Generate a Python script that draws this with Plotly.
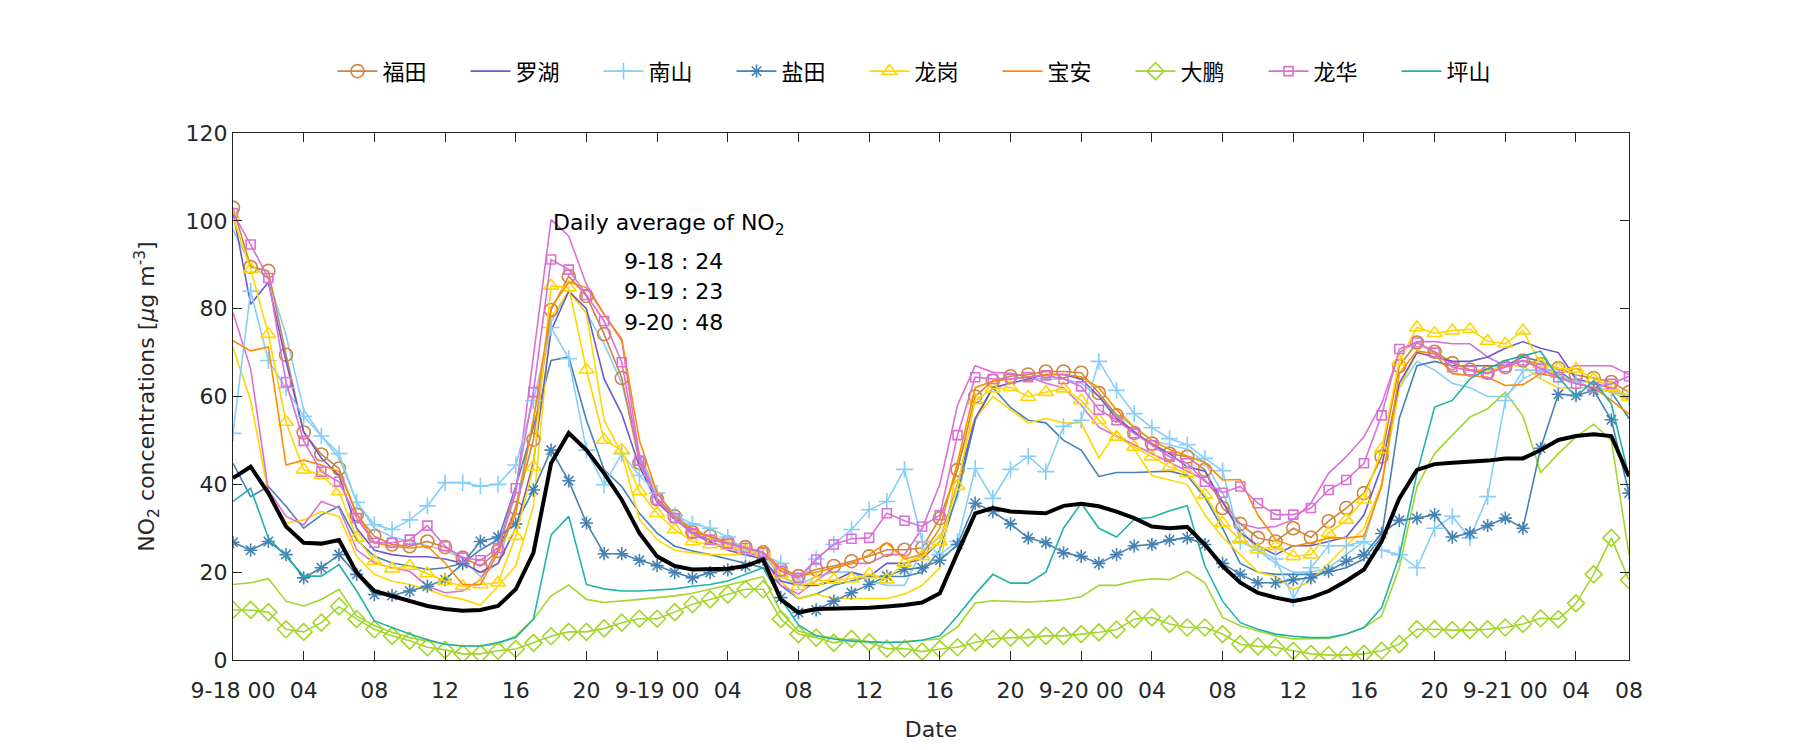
import plotly.graph_objects as go

hours = list(range(80))

# ---- values (NO2, ug/m3), hourly 9-18 00 .. 9-21 07 ----
futian = [103, 89.5, 88.6, 69.5, 51.8, 46.8, 43.6, 33.1, 28.2, 26.3, 25.9, 27.0, 25.7, 23.3, 21.4, 24.8, 34.6, 50.2, 79.7, 87.4, 82.9, 74.2, 64.2, 44.9, 36.6, 32.7, 29.1,
          28.2, 26.8, 25.7, 24.5, 20.6, 19.1, 20.6, 21.4, 22.5, 23.6, 25.1, 25.1, 25.5, 32.3, 43.3, 60.0, 63.6, 64.6, 65.0, 65.7, 65.7, 65.4, 60.8, 55.7, 51.7, 49.3, 47.0,
          46.3, 43.3, 34.6, 31.0, 27.8, 27.0, 30.0, 27.9, 31.6, 34.6, 38.0, 46.3, 66.9, 72.3, 70.2, 67.6, 66.1, 65.4, 66.7, 68.2, 67.4, 66.4, 64.9, 64.2, 63.3, 61.0]
luohu = [102, 81, 86, 68, 52, 46, 42, 30, 25, 24, 23.5, 23.5, 23, 22, 20, 22, 30, 45, 75, 84, 80, 64, 56, 44, 36, 32, 29,
         27, 25, 24, 23, 18, 17, 17, 18, 20, 19, 22, 22, 23, 27, 40, 55, 62, 63, 64, 65, 65, 64, 60, 55, 52, 49, 47,
         44, 43, 36, 29, 26, 24, 26, 26, 27, 28, 33, 44, 63, 70, 69, 68, 68, 69, 71, 72.5, 71, 70, 64, 63, 62, 60]
nanshan = [51.6, 84, 68.2, 62, 55.5, 51, 47, 35.9, 30.8, 29.7, 31.9, 35.1, 40.4, 40.4, 39.6, 40.0, 44.4, 59.1, 75.7, 68.6, 47.8, 39.9, 47.0, 42, 38, 33, 31,
           30, 28, 25, 24, 22, 18, 23, 26.3, 29.7, 34.2, 36.1, 43.4, 27, 24, 27, 43.6, 36.8, 43.4, 46.4, 42.9, 53.2, 54.6, 68, 61.4, 56.1, 52.9, 50.4,
           49, 45.9, 43.1, 27, 25, 23, 14, 21, 26, 26, 27, 25, 24, 21, 30, 32.7, 27.8, 37.2, 59.1, 66, 66, 64.4, 63.3, 62, 61.4, 59.9]
nanshan_b = [98, 90, 87, 74, 57, 51, 46, 36, 30, 28, 27, 26, 25, 23, 19, 22, 35, 55, 77, 84, 79, 72, 63, 47, 38, 33, 30,
             28, 27, 25, 24, 19, 17, 19, 20, 20, 18, 17, 17, 25, 28, 37, 55, 62, 63, 64, 64, 64, 63, 60, 56, 53, 50, 49,
             48, 45, 38, 30, 25, 22, 20, 20, 21, 24, 27, 40, 62, 68, 66, 63, 62, 60, 60, 64, 66, 65, 63, 62, 61, 60]
yantian = [26.8, 25.0, 27.0, 24.0, 18.7, 21.0, 24.0, 19.5, 14.9, 14.7, 15.7, 16.8, 18.3, 22, 27.0, 28.0, 31, 38.7, 47.8, 40.8, 31.2, 24.2, 24.2, 22.7, 21.5, 19.9, 18.7,
           19.9, 20.5, 21.4, 22.9, 14.2, 10.8, 11.4, 13.4, 15.3, 17.2, 19.1, 20.6, 21.0, 22.7, 26.3, 35.7, 33.8, 31.0, 27.8, 26.7, 24.4, 23.6, 22.0, 24.0, 26.0, 26.3, 27.3,
           27.8, 26.3, 22, 19.5, 17.6, 17.6, 18.3, 18.7, 20.2, 22.5, 24.0, 28.8, 31.8, 32.3, 33.1, 28.0, 28.9, 30.6, 32.3, 30.0, 48.2, 60.5, 60.2, 61.4, 54.7, 38.0]
yantian_b = [44.8, 37.2, 39.5, 35, 30, 33, 35, 27.4, 23.6, 22.1, 21.4, 20.6, 21, 22, 25.1, 27.4, 39.5, 53, 68.2, 69, 54.6, 43.3, 39.5, 33.4, 28.9, 25.9, 24.8,
             24, 23, 22, 21, 17, 14, 15, 17, 18, 19, 19, 19, 20, 25, 38, 54.6, 62, 57.5, 54.6, 54, 50, 47.8, 41.8, 42.7, 42.7, 42.9, 43,
             42, 37, 30, 22, 20, 19.5, 19.5, 19.5, 20, 21, 23, 28, 55, 67, 68, 67, 67, 67, 67, 69, 68, 66, 63, 62, 61, 55]
longgang = [100.8, 89, 74.2, 54.2, 43.3, 42.1, 38.4, 27.8, 22.5, 20.8, 21.4, 19.7, 18, 16.8, 17.2, 17.6, 28.2, 44, 85.2, 84.8, 66.1, 50.1, 47.8, 38.4, 33.4, 29.7, 27.0,
            26.3, 25.9, 25.1, 24.4, 19.5, 16.8, 18, 18.3, 18.5, 19.5, 18.3, 22.1, 23.6, 27, 39.6, 59.1, 61.8, 62.1, 59.9, 61, 61.8, 59.1, 54.6, 50.8, 48.5, 46.3, 44,
            42.5, 37.6, 31.2, 27.4, 25.1, 25.9, 23.6, 24, 28.9, 31.9, 36.5, 48, 68, 75.7, 74.4, 75, 75.3, 72.6, 72, 75, 67.4, 66.3, 66.3, 64, 62.1, 59.9]
longgang_b = [71.2, 59.1, 38, 31.2, 31.9, 33.8, 32.7, 23.6, 19.5, 18, 17.2, 16.1, 14.6, 13.8, 12.5, 16.8, 21.4, 35, 78, 84, 79, 54.6, 47, 32, 27.4, 25, 24.4,
              24, 24, 24, 23, 18, 14, 15, 14, 14, 14, 14, 15, 17, 21, 45, 55, 60, 57, 54, 55, 54, 54, 46, 52, 48, 42, 41,
              40, 33, 28, 24, 20, 19, 16, 18, 22, 26, 30, 40, 62, 70, 70, 68, 66, 66, 67, 67, 64, 62, 62, 62, 61, 59]
baoan = [72.7, 70.4, 71.3, 44.4, 45.5, 44.4, 42.9, 33.4, 26.7, 25.9, 25.5, 25.9, 22.1, 17.2, 17.2, 24.4, 33.4, 54.6, 80.3, 86, 84.8, 78.7, 73.1, 50, 38, 32.7, 29.7,
         28, 26.5, 25.5, 24.5, 21, 19, 20, 21, 22, 24, 26.7, 23, 24, 30, 45, 62, 63.5, 64, 64.5, 65, 65, 64.5, 62, 57, 53, 50, 48,
         46.5, 45, 41, 41.1, 33, 27.4, 25.9, 26.7, 27.8, 27.8, 28.2, 39.5, 65.2, 70.4, 69.7, 65.2, 64.8, 64.4, 62.5, 62.7, 65.2, 64.4, 62.9, 62.1, 59.1, 56]
dapeng = [11.4, 11.4, 10.9, 7.0, 6.4, 8.5, 12.2, 9.3, 7, 5.5, 4.4, 2.9, 2.3, 1.4, 1.4, 2.1, 2.5, 3.9, 5.4, 6.4, 6.4, 7.2, 8.5, 9.4, 9.4, 10.9, 12.7,
          13.8, 14.9, 16.1, 16.1, 9.3, 5.9, 5.1, 3.9, 4.8, 4.0, 2.6, 2.6, 1.9, 2.5, 2.9, 4.0, 4.8, 5.1, 5.1, 5.5, 5.5, 5.9, 6.3, 6.9, 9.3, 9.7, 8.2,
          7.4, 7.4, 5.9, 3.6, 3.1, 2.9, 2.1, 1.4, 1.1, 1.1, 1.4, 2.1, 3.6, 7, 7, 6.8, 6.8, 7, 7.4, 8.2, 9.5, 9.3, 12.9, 19.5, 27.8, 18.2]
dapeng_b = [17.2, 17.6, 18.5, 13.4, 12.3, 13.8, 16.1, 10, 7.8, 6.3, 5.1, 4.4, 3.6, 3.2, 3.2, 3.6, 5.5, 9.3, 14.6, 17.1, 13.8, 13.1, 13.4, 13.8, 14.2, 14.6, 15.2,
            16.1, 17, 18, 19, 11, 6.6, 5.5, 5, 4.5, 4.2, 4.0, 4.2, 4.5, 4.8, 7.5, 13, 13.5, 13.3, 13.2, 13.4, 13.7, 14.4, 17, 17, 18, 18.5, 18.3,
            20.2, 17.6, 9.7, 7.8, 6.6, 5.5, 4.8, 4.8, 4.9, 5.9, 7.4, 10, 21, 39.5, 47, 51.2, 55.3, 57.2, 61, 55.5, 42.7, 47, 50.8, 53.7, 50, 24]
longhua = [101.8, 94.6, 87, 63.3, 49.9, 42.9, 40.6, 32.3, 26.7, 26.7, 27.4, 30.6, 25.9, 23.3, 22.7, 25.5, 39.1, 61, 91.2, 88.9, 83.1, 77.2, 67.8, 45.4, 36.5, 32.3, 28.9,
           27.4, 26.5, 25.5, 24.5, 20.2, 18.7, 22.9, 26.3, 27.6, 27.8, 33.4, 31.7, 30.4, 33, 51.2, 64.4, 64, 64, 64.4, 64.8, 64, 62.3, 57, 54.6, 51.6, 48.9, 46.3,
           44.8, 40.6, 38.1, 39.5, 35.7, 33.1, 33.1, 34.6, 38.7, 41, 44.8, 55.7, 70.8, 72.3, 70, 66.7, 65.9, 65.2, 66.7, 68.2, 66.3, 64.4, 62.9, 62.1, 62.9, 64.6]
longhua_b = [79.1, 66.3, 38.7, 32.7, 30.8, 36.1, 34.6, 25.1, 22.1, 21, 20.2, 16.8, 15.3, 15.7, 18.3, 25.1, 38, 69.7, 100.3, 96.5, 85.5, 78.7, 72.7, 46.3, 36.8, 32.7, 28.5,
             27, 25.5, 24.5, 23.5, 17, 15, 18, 21, 22, 22, 24, 24, 30, 40, 58, 67, 65.5, 65.3, 64.5, 63, 62, 58, 53, 51, 49, 47, 45,
             43, 41, 36, 31, 30, 30.4, 32, 35.7, 42.5, 46.3, 50.8, 58.3, 70, 72.5, 72.5, 72, 72, 69, 67, 68.2, 66.5, 65.5, 67, 67, 67, 65]
pingshan = [36.1, 39.1, 27.8, 23.6, 19.1, 19.1, 21.7, 15.7, 8.9, 7.4, 5.9, 4.6, 3.6, 3.2, 3.2, 4.0, 5.1, 9.3, 28.5, 32.7, 17.2, 16.2, 15.7, 15.7, 15.9, 16.2, 16.8,
            17.2, 18, 19.5, 21, 14, 8, 5.5, 4.8, 4.3, 4.1, 4.0, 4.1, 4.5, 5.5, 10, 15, 19.5, 17.5, 17.5, 20, 30, 35.7, 30, 28, 32, 32.5, 34,
            35.1, 21.4, 13.4, 8.5, 7, 5.9, 5.4, 5.1, 5.1, 5.9, 7.4, 11.9, 23.6, 42.5, 57.6, 59.1, 64, 66.3, 68.2, 69.3, 70.3, 64.4, 59.9, 63.6, 58.3, 41.8]
average = [41.4, 44, 38, 30.4, 26.7, 26.5, 27.3, 19.9, 15.7, 14.6, 13.4, 12.3, 11.6, 11.2, 11.4, 12.3, 16.1, 24.4, 44.8, 51.7, 47.8, 42.5, 36.5, 28.9, 23.6, 21.4, 20.6,
           20.6, 20.8, 21.4, 22.9, 13.8, 10.8, 11.6, 11.7, 11.7, 11.9, 12.2, 12.5, 13.1, 15.2, 24.4, 33.4, 34.6, 33.8, 33.6, 33.4, 35.1, 35.6, 35, 33.8, 32.3, 30.4, 30,
           30.3, 26.3, 21.4, 17.6, 15.3, 14.2, 13.4, 14.2, 15.7, 18, 20.6, 27, 36.8, 43.3, 44.6, 44.9, 45.1, 45.4, 45.9, 45.9, 47.8, 50.1, 51, 51.4, 51, 41.8]

tick_vals = [0, 4, 8, 12, 16, 20, 24, 28, 32, 36, 40, 44, 48, 52, 56, 60, 64, 68, 72, 76, 79]
tick_text = ["9-18 00", "04", "08", "12", "16", "20", "9-19 00", "04", "08", "12", "16", "20",
             "9-20 00", "04", "08", "12", "16", "20", "9-21 00", "04", "08"]

daily_labels = ["9-18 : 24", "9-19 : 23", "9-20 : 48"]

FONT = "DejaVu Sans"
TXT = "#262626"
FS = 22
GREEN = "#A3D62A"

fig = go.Figure()

# extra (unlabelled) station lines, drawn underneath
extras = [
    (nanshan_b, "#87CEFA"), (yantian_b, "#4682B4"), (longgang_b, "#FFD700"),
    (dapeng_b, GREEN), (longhua_b, "#DA70D6"),
]
for vals, col in extras:
    fig.add_trace(go.Scatter(x=hours, y=vals, mode="lines", line=dict(color=col, width=1.6),
                             showlegend=False, hoverinfo="skip"))

stations = [
    ("福田", futian, "#CD853F", "circle-open", 13),
    ("罗湖", luohu, "#6A5ACD", None, 0),
    ("南山", nanshan, "#87CEFA", "cross-thin-open", 12),
    ("盐田", yantian, "#4682B4", "asterisk-open", 11),
    ("龙岗", longgang, "#FFD700", "triangle-up-open", 13),
    ("宝安", baoan, "#FF8C00", None, 0),
    ("大鹏", dapeng, GREEN, "diamond-open", 13),
    ("龙华", longhua, "#DA70D6", "square-open", 9),
    ("坪山", pingshan, "#20B2AA", None, 0),
]

for name, vals, col, sym, size in stations:
    if sym:
        fig.add_trace(go.Scatter(x=hours, y=vals, name=name, mode="lines+markers",
                                 line=dict(color=col, width=1.6),
                                 marker=dict(symbol=sym, size=size, color=col,
                                             line=dict(color=col, width=1.6))))
    else:
        fig.add_trace(go.Scatter(x=hours, y=vals, name=name, mode="lines",
                                 line=dict(color=col, width=1.6)))

fig.add_trace(go.Scatter(x=hours, y=average, mode="lines", line=dict(color="black", width=4),
                         showlegend=False))

annotations = [dict(x=18, y=99.2, xref="x", yref="y", xanchor="left", yanchor="middle",
                    text="Daily average of NO<sub>2</sub>", showarrow=False,
                    font=dict(family=FONT, size=FS, color="black"))]
for i, lab in enumerate(daily_labels):
    annotations.append(dict(x=22, y=90.8 - 7.0 * i, xref="x", yref="y", xanchor="left",
                            yanchor="middle", text=lab, showarrow=False,
                            font=dict(family=FONT, size=FS, color="black")))

axis_common = dict(showline=True, linecolor=TXT, linewidth=1.2, mirror="ticks",
                   ticks="inside", ticklen=9, tickcolor=TXT, tickwidth=1,
                   showgrid=False, zeroline=False,
                   tickfont=dict(family=FONT, size=FS, color=TXT))

fig.update_layout(
    width=1800, height=750, autosize=False,
    paper_bgcolor="white", plot_bgcolor="white",
    margin=dict(l=233, r=171, t=133, b=86),
    font=dict(family=FONT, size=FS, color=TXT),
    annotations=annotations,
    xaxis=dict(range=[0, 79], tickmode="array", tickvals=tick_vals, ticktext=tick_text,
               ticklabelstandoff=10,
               title=dict(text="Date", font=dict(family=FONT, size=FS, color=TXT), standoff=20),
               **axis_common),
    yaxis=dict(range=[0, 120], tickmode="array", tickvals=[0, 20, 40, 60, 80, 100, 120],
               title=dict(text="NO<sub>2</sub> concentrations [<i>μ</i>g m<sup>-3</sup>]",
                          font=dict(family=FONT, size=FS, color=TXT), standoff=24),
               **axis_common),
    legend=dict(orientation="h", x=0.5, xanchor="center", y=1.117, yanchor="middle",
                font=dict(family="Noto Sans CJK SC", size=22, color="black"),
                entrywidth=78, entrywidthmode="pixels", itemwidth=40,
                bgcolor="rgba(0,0,0,0)"),
    showlegend=True,
)

fig.write_html("out.html")
